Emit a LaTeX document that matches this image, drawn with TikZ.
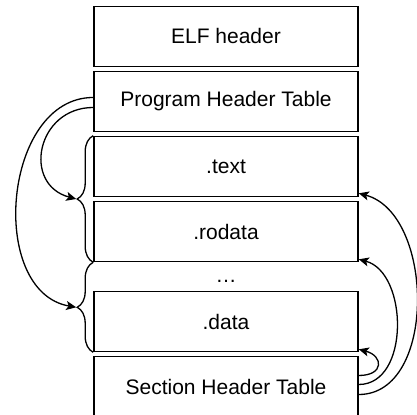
\documentclass[tikz,border=0pt]{standalone}
\usepackage{fontspec}
\setmainfont{Liberation Sans}
\usetikzlibrary{arrows.meta, positioning, decorations.pathreplacing, calc}

\begin{document}
\begin{tikzpicture}[
    x=0.5pt, y=0.5pt,
    node distance=1.7pt,
    part/.style={rectangle, draw, line width=0.8pt, minimum width=132pt, minimum height=30pt, inner sep=0pt, font=\fontsize{10.5}{12}\selectfont},
    bracel/.style={decorate, decoration={brace, amplitude=8pt}, line width=0.65pt},
    arrow/.style={-{Stealth[length=5pt, width=4.5pt, inset=1.2pt]}, line width=0.65pt}
]
\useasboundingbox (0,0) rectangle (417,-415);

\node[part] (elf) at (226,-36.5) {ELF header};
\node[part, below=of elf] (pht) {Program Header Table};
\node[part, below=of pht] (text) {.text};
\node[part, below=of text] (rodata) {.rodata};
\node[part, below=14.2pt of rodata] (data) {.data};
\node[part, below=of data] (sht) {Section Header Table};
\node[font=\fontsize{10.5}{12}\selectfont, yshift=-2.5pt] (dots) at ($(rodata.south)!0.5!(data.north)$) {\dots};

% braces on the left
\draw[bracel] (rodata.south west) -- (text.north west);
\draw[bracel] (data.south west) -- (rodata.south west);
\coordinate (tipA) at ($(text.north west)!0.5!(rodata.south west)+(-8.5pt,0)$);
\coordinate (tipB) at ($(rodata.south west)!0.5!(data.south west)+(-8.5pt,0)$);

\draw[arrow] ([yshift=2pt]pht.west) to[out=180, in=170, looseness=1.1] (tipB);
\draw[arrow] ([yshift=-3pt]pht.west) to[out=180, in=165, looseness=1.55] (tipA);

% section header table points back up
\draw[arrow] ([yshift=5.5pt]sht.east) to[out=0, in=-15, looseness=2.5] ([yshift=1.5pt]data.south east);
\draw[arrow] ([yshift=1pt]sht.east) to[out=0, in=-15, looseness=1.05] ([yshift=1.5pt]rodata.south east);
\draw[arrow] ([yshift=-4pt]sht.east) to[out=0, in=-15, looseness=1] ([yshift=2pt]text.south east);

\end{tikzpicture}
\end{document}
